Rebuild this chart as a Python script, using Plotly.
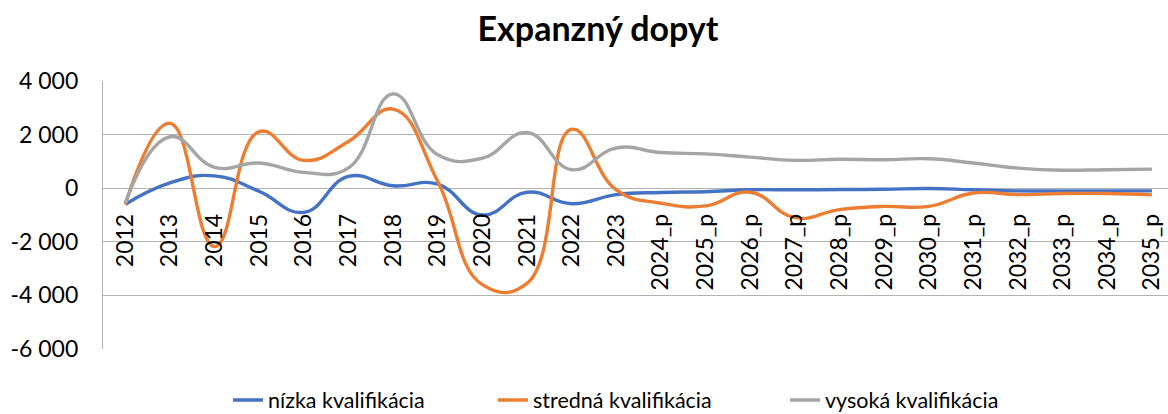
import plotly.graph_objects as go

categories = ["2012", "2013", "2014", "2015", "2016", "2017", "2018", "2019", "2020", "2021", "2022", "2023",
              "2024_p", "2025_p", "2026_p", "2027_p", "2028_p", "2029_p", "2030_p", "2031_p", "2032_p",
              "2033_p", "2034_p", "2035_p"]

nizka = [-600, 200, 460, -120, -900, 440, 90, 150, -1000, -150, -580, -240,
         -160, -130, -60, -60, -50, -40, -10, -60, -100, -100, -100, -100]
stredna = [-600, 2420, -2180, 2110, 1040, 1740, 2950, 250, -3600, -3550, 2200, -60,
           -560, -660, -150, -1100, -800, -680, -680, -180, -240, -200, -200, -250]
vysoka = [-550, 1920, 780, 940, 590, 760, 3520, 1250, 1120, 2080, 690, 1500,
          1330, 1280, 1160, 1040, 1080, 1060, 1100, 940, 750, 670, 690, 710]

series_names = ["nízka kvalifikácia", "stredná kvalifikácia", "vysoká kvalifikácia"]
series_colors = ["#4472C4", "#ED7D31", "#A5A5A5"]

y_tickvals = [-6000, -4000, -2000, 0, 2000, 4000]
y_ticktext = ["-6 000", "-4 000", "-2 000", "0", "2 000", "4 000"]

FONT = "Lato, 'Open Sans', sans-serif"

W, H = 1168, 414
L, R, T, B = 103, 0, 81, 65
plot_w = W - L - R
legend_ids = ["legend", "legend2", "legend3"]
legend_text_px = [268, 533, 825]

fig = go.Figure()
for name, vals, col, lid in zip(series_names, [nizka, stredna, vysoka], series_colors, legend_ids):
    fig.add_trace(go.Scatter(
        x=categories, y=vals, name=name, mode="lines", legend=lid,
        line=dict(color=col, width=3.4, shape="spline", smoothing=1.3),
    ))

ymin, ymax = -6000, 4000
zero_frac = (0 - ymin) / (ymax - ymin)

legend_common = dict(orientation="h", yref="container", y=1 - 400 / H, yanchor="middle",
                     xanchor="left", font=dict(size=21.5, family=FONT, color="#000000"),
                     bgcolor="rgba(0,0,0,0)", borderwidth=0)
legends = {}
for lid, tx in zip(legend_ids, legend_text_px):
    legends[lid] = dict(legend_common, x=(tx - 40 - L) / plot_w)

fig.update_layout(
    width=W, height=H,
    margin=dict(l=L, r=R, t=T, b=B, autoexpand=False),
    paper_bgcolor="white", plot_bgcolor="white",
    font=dict(family=FONT, color="#000000"),
    title=dict(text="<b>Expanzný dopyt</b>", x=(598 - L) / plot_w, xref="paper", xanchor="center",
               y=1 - 29 / H, yref="container", yanchor="middle",
               font=dict(size=34, family=FONT, color="#000000")),
    showlegend=True,
    **legends,
    xaxis=dict(
        type="category", range=[-0.5, 23.36], showgrid=False, zeroline=False, showline=False,
        anchor="free", position=zero_frac, automargin=False,
        tickangle=-90, tickfont=dict(size=23, family=FONT, color="#000000"),
        ticks="", ticklabelstandoff=20,
    ),
    yaxis=dict(
        range=[ymin, ymax], tickvals=y_tickvals, ticktext=y_ticktext, automargin=False,
        showgrid=True, gridcolor="#B3B3B3", gridwidth=1.3,
        zeroline=False, showline=True, linecolor="#B3B3B3", linewidth=1.3,
        tickfont=dict(size=23, family=FONT, color="#000000"),
        ticks="", ticklabelstandoff=19,
    ),
)

fig.write_html("out.html", config={"displayModeBar": False},
               post_script="document.body.style.margin='0';document.body.style.overflow='hidden';")
